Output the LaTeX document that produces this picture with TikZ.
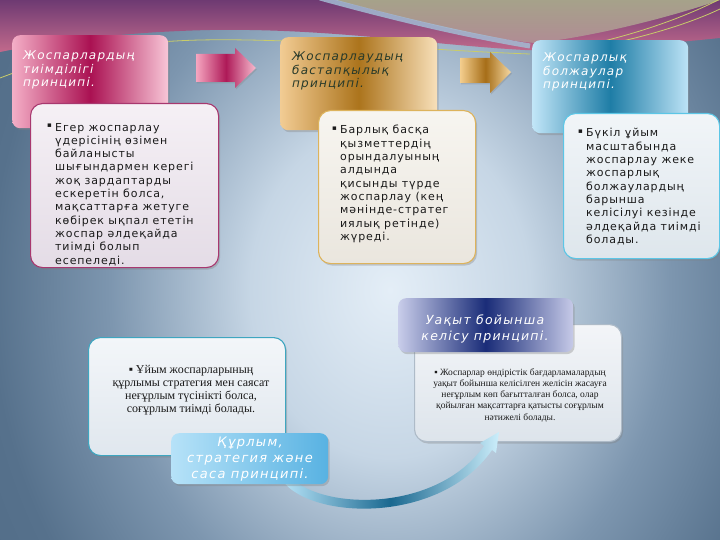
\documentclass[tikz,border=0pt]{standalone}
\usepackage{fontspec}
\setmainfont{DejaVu Sans}
\newfontfamily\bodyfont{DejaVu Sans}[LetterSpace=8]
\newfontfamily\titlefont{DejaVu Sans}[LetterSpace=10]
\newfontfamily\serfont{Liberation Serif}
\usetikzlibrary{shadows}
\definecolor{bgA}{HTML}{E4EEF7}
\definecolor{bgB}{HTML}{C6D6E5}
\definecolor{bgC}{HTML}{7D96AF}
\definecolor{bgD}{HTML}{56718C}
\definecolor{bgE}{HTML}{4A6580}
\pgfdeclareradialshading{bgshade}{\pgfpoint{0bp}{0bp}}{color(0bp)=(bgA); color(7bp)=(bgB); color(14bp)=(bgC); color(20bp)=(bgD); color(30bp)=(bgE); color(50bp)=(bgE)}
\definecolor{bandTop}{HTML}{6E3A72}
\definecolor{bandBot}{HTML}{C26A8C}
\definecolor{oliveTop}{HTML}{A6A28A}
\definecolor{oliveBot}{HTML}{B08C94}
\definecolor{ribbon}{HTML}{A3BBD3}
\definecolor{yline}{HTML}{C9CC6A}
\definecolor{t1L}{HTML}{F4AFC7}
\definecolor{t1M}{HTML}{AA1152}
\definecolor{t1R}{HTML}{F8C6D7}
\definecolor{t2L}{HTML}{F2CC94}
\definecolor{t2M}{HTML}{AC741C}
\definecolor{t2R}{HTML}{F8E0BA}
\definecolor{t2ink}{HTML}{283A2A}
\definecolor{t3L}{HTML}{C2E6F8}
\definecolor{t3M}{HTML}{1E7DA6}
\definecolor{t3R}{HTML}{BDE3F6}
\definecolor{t4L}{HTML}{B6E2F8}
\definecolor{t4R}{HTML}{58B2E2}
\definecolor{t5L}{HTML}{C9CDEA}
\definecolor{t5M}{HTML}{1A2C78}
\definecolor{t5R}{HTML}{C6CAE8}
\definecolor{b1D}{HTML}{A8386F}
\definecolor{b1T}{HTML}{F5F0F5}
\definecolor{b1B}{HTML}{E4DCE6}
\definecolor{b2D}{HTML}{DDB35C}
\definecolor{b2T}{HTML}{F7F5F0}
\definecolor{b2B}{HTML}{EAE6DE}
\definecolor{b3D}{HTML}{5CC6E6}
\definecolor{b3T}{HTML}{F1F5F8}
\definecolor{b3B}{HTML}{DEE6EC}
\definecolor{b4D}{HTML}{3EA6C0}
\definecolor{b4T}{HTML}{F3F6F9}
\definecolor{b4B}{HTML}{E0E7EE}
\definecolor{b5D}{HTML}{AEBBC8}
\definecolor{b5T}{HTML}{F3F5F8}
\definecolor{b5B}{HTML}{DDE4EB}
\definecolor{a1L}{HTML}{F6A6C0}
\definecolor{a1M}{HTML}{AE1A58}
\definecolor{a1R}{HTML}{F7BCCF}
\definecolor{a2L}{HTML}{F4CE8E}
\definecolor{a2M}{HTML}{A66E18}
\definecolor{a2R}{HTML}{F5D8A2}
\definecolor{cL}{HTML}{B8E4F8}
\definecolor{cM}{HTML}{1A6890}
\definecolor{cR}{HTML}{CCEEFB}
\definecolor{bodyink}{HTML}{1A1A1A}
\begin{document}
\begin{tikzpicture}[x=1pt,y=-1pt,
  shadowed/.style={drop shadow={opacity=0.35, shadow xshift=1.5pt, shadow yshift=-2pt}},
  titlebox/.style={rounded corners=8pt, inner sep=0pt, anchor=north west, shadowed},
  bodybox/.style={rounded corners=12pt, inner sep=0pt, anchor=north west, line width=1.1pt, shadowed},
  ttext/.style={anchor=base west, align=left, inner sep=0pt, font=\titlefont\itshape\fontsize{12}{13.5}\selectfont},
  btext/.style={anchor=base west, align=left, inner sep=0pt, text=bodyink, font=\bodyfont\fontsize{11}{13.3}\selectfont},
  bul/.style={anchor=base, inner sep=0pt, text=bodyink, font=\bodyfont\fontsize{7}{7}\selectfont},
  stext/.style={anchor=base, align=center, inner sep=0pt, text=bodyink, font=\serfont\fontsize{12}{13.3}\selectfont},
  sstext/.style={anchor=base, align=center, inner sep=0pt, text=bodyink, font=\serfont\fontsize{9.5}{11.3}\selectfont},
  btitle/.style={anchor=base, align=center, inner sep=0pt, text=white, font=\titlefont\itshape\fontsize{13}{16}\selectfont}
]
\useasboundingbox (0,0) rectangle (720,540);
\clip (0,0) rectangle (720,540);
% background
\shade[shading=bgshade] (-110,-310) rectangle (890,890);
\shade[top color=bandTop, bottom color=bandBot] (0,0) -- (720,0) -- (720,38) .. controls (660,44) and (580,52) .. (525,50) .. controls (430,45) and (330,28) .. (210,30) .. controls (120,32) and (50,42) .. (0,52) -- cycle;
\shade[top color=oliveTop, bottom color=oliveBot] (335,0) .. controls (420,22) and (480,38) .. (535,43) .. controls (600,36) and (680,14) .. (720,0) -- cycle;
\draw[ribbon, line width=5pt, opacity=0.85] (320,-2) .. controls (400,20) and (470,36) .. (530,46);
\draw[yline, line width=0.8pt] (0,78) .. controls (60,55) and (120,42) .. (200,40) .. controls (300,38) and (420,50) .. (530,54);
\draw[yline, line width=0.8pt] (560,50) .. controls (620,40) and (680,20) .. (722,-2);
\draw[yline, line width=0.8pt] (575,50) .. controls (630,42) and (690,24) .. (722,8);

% top row
\node[titlebox, minimum width=156pt, minimum height=93pt, left color=t1L, right color=t1R, middle color=t1M] (t1) at (12,35) {};
\node[ttext, text=white] (t1txt) at (23,87) {Жоспарлардың\\тиімділігі\\принципі.};
\node[bodybox, minimum width=188pt, minimum height=164pt, draw=b1D, top color=b1T, bottom color=b1B] (b1) at (30,103) {};
\node[bul] (b1bul) at (49.5,128) {▪};
\node[btext] (b1txt) at (55,264) {Егер жоспарлау\\үдерісінің өзімен\\байланысты\\шығындармен керегі\\жоқ зардаптарды\\ескеретін болса,\\мақсаттарға жетуге\\көбірек ықпал ететін\\жоспар әлдеқайда\\тиімді болып\\есепеледі.};

\shade[left color=a1L, right color=a1R, middle color=a1M, drop shadow={opacity=0.3, shadow xshift=1pt, shadow yshift=-1.5pt}] (196,54) -- (235,54) -- (235,48) -- (256,68) -- (235,88) -- (235,82) -- (196,82) -- cycle;

\node[titlebox, minimum width=157pt, minimum height=93pt, left color=t2L, right color=t2R, middle color=t2M] (t2) at (280,37) {};
\node[ttext, text=t2ink] (t2txt) at (292,88) {Жоспарлаудың\\бастапқылық\\принципі.};
\node[bodybox, minimum width=157pt, minimum height=153pt, draw=b2D, top color=b2T, bottom color=b2B] (b2) at (318,110) {};
\node[bul] (b2bul) at (334.5,131) {▪};
\node[btext] (b2txt) at (340,240.4) {Барлық басқа\\қызметтердің\\орындалуының\\алдында\\қисынды түрде\\жоспарлау (кең\\мәнінде-стратег\\иялық ретінде)\\жүреді.};

\shade[left color=a2L, right color=a2R, middle color=a2M, drop shadow={opacity=0.3, shadow xshift=1pt, shadow yshift=-1.5pt}] (460,58) -- (490,58) -- (490,52) -- (511,72) -- (490,93) -- (490,83) -- (460,83) -- cycle;

\node[titlebox, minimum width=156pt, minimum height=93pt, left color=t3L, right color=t3R, middle color=t3M] (t3) at (532,40) {};
\node[ttext, text=white] (t3txt) at (543,89) {Жоспарлық\\болжаулар\\принципі.};
\node[bodybox, minimum width=156pt, minimum height=145pt, draw=b3D, top color=b3T, bottom color=b3B] (b3) at (563,113) {};
\node[bul] (b3bul) at (580.5,134) {▪};
\node[btext] (b3txt) at (586,243.4) {Бүкіл ұйым\\масштабында\\жоспарлау жеке\\жоспарлық\\болжаулардың\\барынша\\келісілуі кезінде\\әлдеқайда тиімді\\болады.};

% bottom row
\node[bodybox, minimum width=197pt, minimum height=118pt, draw=b4D, top color=b4T, bottom color=b4B] (b4) at (88,337) {};
\node[stext] (b4txt) at (191,412.9) {▪ Ұйым жоспарларының\\құрлымы стратегия мен саясат\\неғұрлым түсінікті болса,\\соғұрлым тиімді болады.};
\node[bodybox, minimum width=207pt, minimum height=117pt, draw=b5D, top color=b5T, bottom color=b5B] (b5) at (414,324) {};
\node[sstext] (b5txt) at (520,420.2) {▪ Жоспарлар өндірістік бағдарламалардың\\уақыт бойынша келісілген желісін жасауға\\неғұрлым көп бағытталған болса, олар\\қойылған мақсаттарға қатысты соғұрлым\\нәтижелі болады.};

% curved arrow
\shade[left color=cL, right color=cR, middle color=cM] (282,480) .. controls (310,520) and (440,525) .. (492,450) -- (496,453) -- (499,432) -- (480,443) -- (484,446) .. controls (435,515) and (315,510) .. (288,474) -- cycle;

\node[titlebox, minimum width=157pt, minimum height=51pt, left color=t4L, right color=t4R] (t4) at (171,433) {};
\node[btitle] (t4txt) at (250,478) {Құрлым,\\стратегия және\\саса принципі.};
\node[titlebox, minimum width=175pt, minimum height=54pt, left color=t5L, right color=t5R, middle color=t5M] (t5) at (398,298) {};
\node[btitle, font=\titlefont\itshape\fontsize{12.5}{16}\selectfont] (t5txt) at (485,340) {Уақыт бойынша\\келісу принципі.};
\end{tikzpicture}
\end{document}
